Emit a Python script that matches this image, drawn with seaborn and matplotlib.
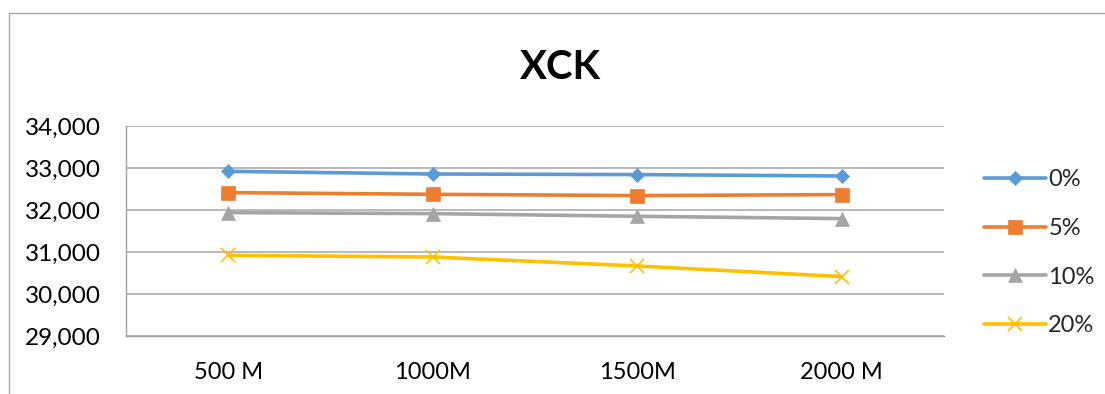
import matplotlib
matplotlib.use("Agg")
import matplotlib.pyplot as plt
from matplotlib.lines import Line2D
import seaborn as sns
import pandas as pd

categories = ["500 M", "1000M", "1500M", "2000 M"]
series_names = ["0%", "5%", "10%", "20%"]
s0 = [32920, 32857, 32843, 32810]
s5 = [32414, 32374, 32343, 32367]
s10 = [31938, 31914, 31850, 31795]
s20 = [30921, 30881, 30667, 30414]
title = "XCK"

colors = ["#5B9BD5", "#ED7D31", "#A5A5A5", "#FFC000"]
markers = ["D", "s", "^", "x"]
msizes = [7.5, 9.5, 9.5, 10]

sns.set_style("white")
plt.rcParams["font.family"] = ["Lato", "DejaVu Sans"]

fig = plt.figure(figsize=(11.05, 3.94), dpi=100)
ax = fig.add_axes([126 / 1105, 1 - 336 / 394, (944 - 126) / 1105, (336 - 126) / 394])

for name, vals, c, mk, ms in zip(series_names, [s0, s5, s10, s20], colors, markers, msizes):
    d = pd.DataFrame({"cat": categories, "value": vals})
    sns.lineplot(data=d, x="cat", y="value", sort=False, color=c, marker=mk,
                 markersize=ms, markeredgecolor=c, markerfacecolor=c,
                 markeredgewidth=(1.2 if mk == "x" else 0.5),
                 linewidth=2.6, ax=ax, zorder=3)

ax.set_xlim(-0.5, 3.5)
ax.set_ylim(29000, 34000)
ax.set_yticks(range(29000, 34001, 1000))
ax.set_yticklabels([f"{v:,}" for v in range(29000, 34001, 1000)])
ax.set_xticks(range(len(categories)))
ax.set_xticklabels(categories)
ax.set_xticks([-0.5, 0.5, 1.5, 2.5, 3.5], minor=True)
ax.tick_params(axis="x", which="major", length=0, pad=19, labelsize=17, colors="black")
ax.tick_params(axis="x", which="minor", length=8, width=1, color="#a0a0a0", direction="out")
ax.tick_params(axis="y", length=6, width=1, color="#a0a0a0", labelsize=17.5, pad=12, labelcolor="black")
ax.set_xlabel("")
ax.set_ylabel("")

ax.grid(axis="y", color="#a6a6a6", linewidth=1.1)
ax.grid(axis="x", visible=False)
for side in ["top", "right"]:
    ax.spines[side].set_visible(False)
for side in ["left", "bottom"]:
    ax.spines[side].set_color("#a0a0a0")
    ax.spines[side].set_linewidth(1)

fig.text(561 / 1105, 1 - 79 / 394, title, ha="center", va="baseline",
         fontsize=29, fontweight="bold", color="black")

handles = [Line2D([], [], color=c, marker=m, markersize=ms, linewidth=2.6,
                  markeredgecolor=c, markerfacecolor=c,
                  markeredgewidth=(1.2 if m == "x" else 0.5))
           for c, m, ms in zip(colors, markers, msizes)]
fig.legend(handles, series_names, loc="upper left",
           bbox_to_anchor=(975 / 1105, 1 - 160 / 394), frameon=False,
           fontsize=17, handlelength=2.6, handletextpad=0.1,
           labelspacing=1.17, borderaxespad=0)

# chart area border (top and left edges visible)
fig.add_artist(Line2D([9 / 1105, 9 / 1105], [0, 1 - 13 / 394], transform=fig.transFigure,
                      color="#a6a6a6", linewidth=1))
fig.add_artist(Line2D([9 / 1105, 1], [1 - 13 / 394, 1 - 13 / 394], transform=fig.transFigure,
                      color="#a6a6a6", linewidth=1))

fig.savefig("out.png", dpi=100)
